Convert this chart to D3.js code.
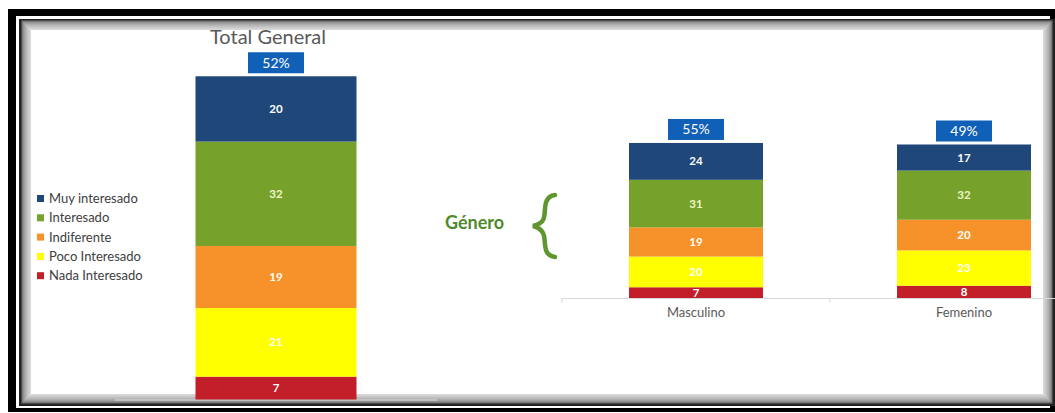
<!DOCTYPE html>
<html>
<head>
<meta charset="utf-8">
<script src="https://cdn.jsdelivr.net/npm/d3@7"></script>
<style>
  body { margin: 0; background: #fff; }
  svg { display: block; font-family: Lato, "Open Sans", sans-serif; }
</style>
</head>
<body>
<div id="chart"></div>
<script>
// levels of interest, from top of stack to bottom
const levels = ["Muy interesado", "Interesado", "Indiferente", "Poco Interesado", "Nada Interesado"];
const levelColors = ["#1f477a", "#76a22b", "#f7922a", "#ffff00", "#c21f2a"];

const totalGroups = ["Total General"];
const totalMuy = [20];
const totalInteresado = [32];
const totalIndiferente = [19];
const totalPoco = [21];
const totalNada = [7];
const totalPct = ["52%"];

const genderGroups = ["Masculino", "Femenino"];
const genderMuy = [24, 17];
const genderInteresado = [31, 32];
const genderIndiferente = [19, 20];
const genderPoco = [20, 23];
const genderNada = [7, 8];
const genderPct = ["55%", "49%"];

const W = 1055, H = 413;
const svg = d3.select("#chart").append("svg").attr("width", W).attr("height", H);

// frame: black outer band, white gap, dark inner line with soft inner shadow
svg.append("rect").attr("x", 8).attr("y", 9).attr("width", W - 8).attr("height", 403).attr("fill", "#000");
svg.append("rect").attr("x", 16).attr("y", 16).attr("width", 1034).attr("height", 392).attr("fill", "#fff");
svg.append("rect").attr("x", 19).attr("y", 19).attr("width", W - 19).attr("height", 387).attr("fill", "#222");
for (let i = 0; i < 10; i++) {
  svg.append("rect")
    .attr("x", 22 + i).attr("y", 21 + i)
    .attr("width", (W - 25) - 2 * i).attr("height", 382 - 2 * i)
    .attr("fill", i == 9 ? "#fff" : "none")
    .attr("stroke", d3.interpolateRgb("#666", "#fff")(Math.pow(i / 9, 0.5)))
    .attr("stroke-width", 1.2);
}

function rows(groups, muy, inter, indif, poco, nada, pct) {
  return groups.map((g, i) => ({
    group: g, pct: pct[i],
    "Muy interesado": muy[i], "Interesado": inter[i], "Indiferente": indif[i],
    "Poco Interesado": poco[i], "Nada Interesado": nada[i]
  }));
}

const stack = d3.stack().keys(levels.slice().reverse());
const color = d3.scaleOrdinal().domain(levels).range(levelColors);

function drawStack(data, x, y, opts) {
  const g = svg.append("g");
  const series = stack(data);
  const bw = x.bandwidth() * 0.5;
  const off = (x.bandwidth() - bw) / 2;

  // baseline
  g.append("line")
    .attr("x1", x.range()[0]).attr("x2", x.range()[1])
    .attr("y1", y(0) + 0.5).attr("y2", y(0) + 0.5)
    .attr("stroke", "#d9d9d9");
  if (opts.ticks) {
    x.domain().forEach(d => {
      g.append("line").attr("x1", x(d)).attr("x2", x(d))
        .attr("y1", y(0)).attr("y2", y(0) + 5).attr("stroke", "#d9d9d9");
    });
  }

  series.forEach(s => {
    g.selectAll(null).data(s).join("rect")
      .attr("x", d => x(d.data.group) + off)
      .attr("width", bw)
      .attr("y", d => y(d[1]))
      .attr("height", d => y(d[0]) - y(d[1]))
      .attr("fill", color(s.key));
    g.selectAll(null).data(s).join("text")
      .attr("x", d => x(d.data.group) + x.bandwidth() / 2)
      .attr("y", d => (y(d[0]) + y(d[1])) / 2 + 4)
      .attr("text-anchor", "middle")
      .attr("font-size", 11.5).attr("font-weight", "bold")
      .attr("fill", s.key == "Interesado" ? "#eef5c8" : "#fff")
      .text(d => d.data[s.key]);
  });

  // percentage boxes above each stack
  const top = series[series.length - 1];
  top.forEach(d => {
    const cx = x(d.data.group) + x.bandwidth() / 2;
    g.append("rect")
      .attr("x", cx - 28).attr("y", y(d[1]) - 24)
      .attr("width", 56).attr("height", 21)
      .attr("fill", "#1160b7");
    g.append("text")
      .attr("x", cx).attr("y", y(d[1]) - 8.5)
      .attr("text-anchor", "middle")
      .attr("font-size", 14).attr("fill", "#fff")
      .text(d.data.pct);
  });

  if (opts.labels) {
    x.domain().forEach(d => {
      g.append("text")
        .attr("x", x(d) + x.bandwidth() / 2).attr("y", y(0) + 19)
        .attr("text-anchor", "middle")
        .attr("font-size", 13).attr("fill", "#595959")
        .text(d);
    });
  }
}

// left: total
const xTotal = d3.scaleBand().domain(totalGroups).range([115, 437]);
const yTotal = d3.scaleLinear().domain([0, 100]).range([399.5, 73]);
drawStack(rows(totalGroups, totalMuy, totalInteresado, totalIndiferente, totalPoco, totalNada, totalPct),
  xTotal, yTotal, { ticks: false, labels: false });

svg.append("text")
  .attr("x", 268).attr("y", 44)
  .attr("text-anchor", "middle")
  .attr("font-size", 20).attr("fill", "#595959")
  .text(totalGroups[0]);

// right: by gender
const xGender = d3.scaleBand().domain(genderGroups).range([562, 1098]);
const yGender = d3.scaleLinear().domain([0, 100]).range([298, 144.5]);
drawStack(rows(genderGroups, genderMuy, genderInteresado, genderIndiferente, genderPoco, genderNada, genderPct),
  xGender, yGender, { ticks: true, labels: true });

// legend
const legend = svg.append("g");
levels.forEach((l, i) => {
  const ly = 199 + i * 19.3;
  legend.append("rect").attr("x", 37).attr("y", ly - 4).attr("width", 7).attr("height", 7).attr("fill", levelColors[i]);
  legend.append("text").attr("x", 49).attr("y", ly + 4)
    .attr("font-size", 13).attr("fill", "#404040").text(l);
});

// "Género" label and brace
svg.append("text")
  .attr("x", 445).attr("y", 229)
  .attr("font-size", 18).attr("font-weight", "bold").attr("fill", "#4f8a2c")
  .text("Género");
svg.append("path")
  .attr("d", "M555,195 C541,197 547,214 543,220 C541,224 537,225 533,226 C537,227 541,229 543,233 C547,240 541,255 555,257")
  .attr("fill", "none").attr("stroke", "#5f9630").attr("stroke-width", 4.5).attr("stroke-linecap", "round");
</script>
</body>
</html>
